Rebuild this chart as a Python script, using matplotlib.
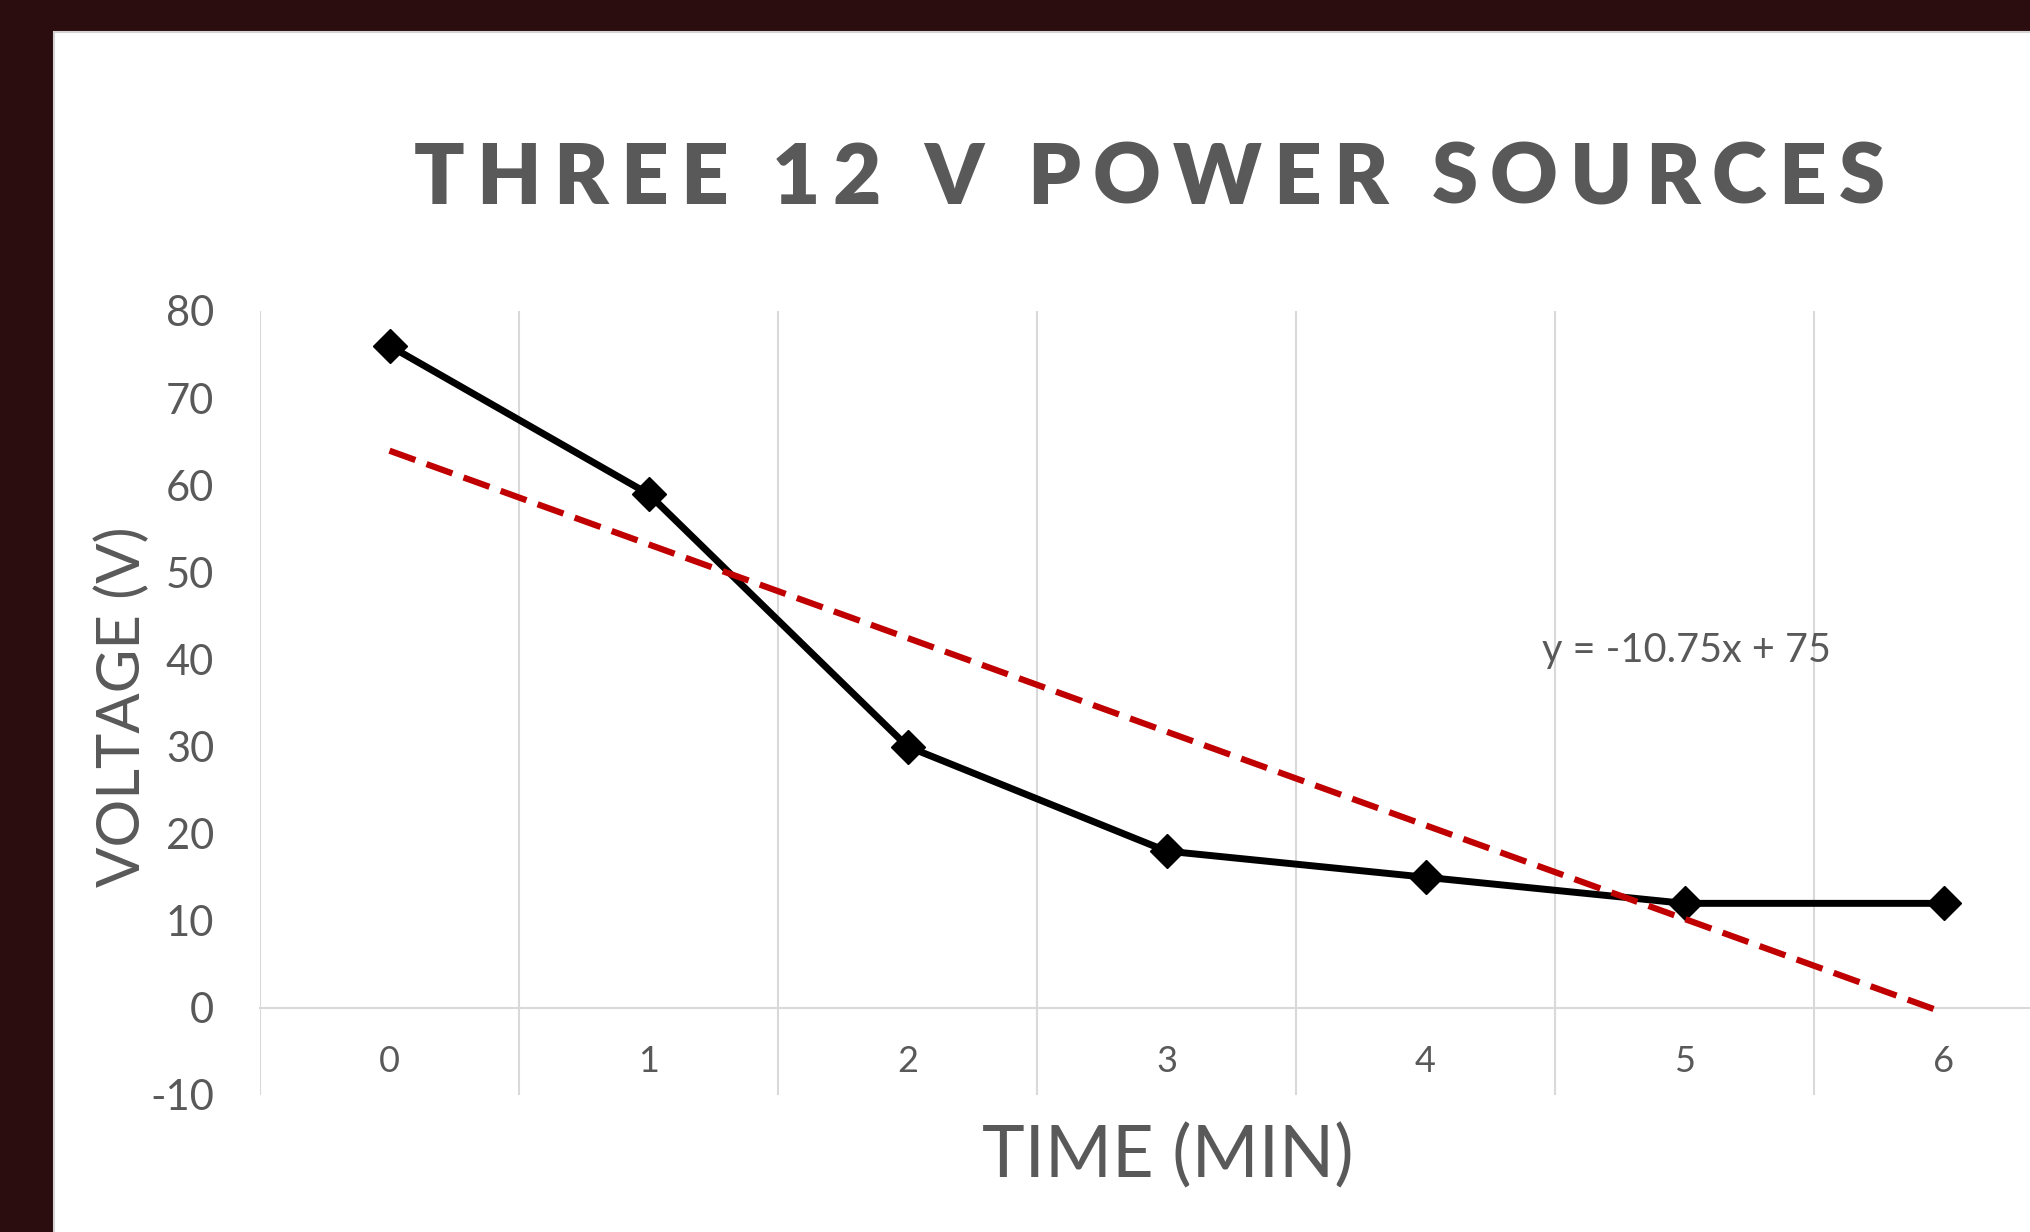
import numpy as np
import matplotlib.pyplot as plt
from matplotlib.patches import Rectangle

# data
time_min = [0, 1, 2, 3, 4, 5, 6]
voltage = [76, 59, 30, 18, 15, 12, 12]
y_ticks = [-10, 0, 10, 20, 30, 40, 50, 60, 70, 80]

title = 'THREE 12 V POWER SOURCES'
x_title = 'TIME (MIN)'
y_title = 'VOLTAGE (V)'

GREY = '#595959'
GRID = '#d9d9d9'
FONT = 'Lato'

W, H = 2030, 1232


def tracked_text(fig, s, xc, y, track, **kw):
    # matplotlib has no letter-spacing, so place the glyphs one by one
    r = fig.canvas.get_renderer()
    probe = fig.text(0, 0, 'HH', **kw)
    base = probe.get_window_extent(r).width
    adv = []
    for ch in s:
        probe.set_text('H' + ch + 'H')
        adv.append(probe.get_window_extent(r).width - base)
    probe.remove()
    total = sum(adv) + track * (len(s) - 1)
    x = xc * W - total / 2
    for ch, a in zip(s, adv):
        fig.text(x / W, y, ch, ha='left', va='baseline', **kw)
        x += a + track


def main():
    plt.rcParams['font.family'] = FONT
    fig = plt.figure(figsize=(W / 100, H / 100), dpi=100, facecolor='#2b0c0f')
    fig.add_artist(Rectangle((54 / W, -0.05), 1.1, 1 - 32 / H + 0.05, transform=fig.transFigure,
                             facecolor='white', edgecolor='#d4d4d4', linewidth=1.5, zorder=-1))

    ax = fig.add_axes([260 / W, 1 - 1095 / H, (2073 - 260) / W, (1095 - 311) / H])
    ax.set_facecolor('none')
    for side in ['top', 'right', 'left']:
        ax.spines[side].set_visible(False)
    ax.spines['bottom'].set_position(('data', 0))
    ax.spines['bottom'].set_color(GRID)
    ax.spines['bottom'].set_linewidth(1.5)
    ax.set_xlim(-0.5, 6.5)
    ax.set_ylim(-10, 80)

    x = np.array(time_min)
    ax.plot(x, voltage, color='black', linewidth=5, marker='D', markersize=17.5,
            markerfacecolor='black', markeredgecolor='black', zorder=3)

    # excel linear trendline uses the category index 1..n
    idx = np.arange(1, len(voltage) + 1)
    slope, intercept = np.polyfit(idx, voltage, 1)
    ax.plot(x, slope * idx + intercept, color='#c00000', linewidth=4.5,
            linestyle=(0, (4.4, 1.9)), dash_capstyle='butt', zorder=4)
    ax.text(4.45, 41, f'y = {slope:.2f}x + {intercept:.0f}', fontsize=28.5, color=GREY,
            ha='left', va='center')

    ax.set_xticks(time_min)
    ax.set_xticklabels([str(t) for t in time_min])
    ax.set_xticks(np.arange(-0.5, 7, 1), minor=True)
    ax.set_yticks(y_ticks)
    ax.set_yticklabels([str(v) for v in y_ticks])
    ax.tick_params(axis='x', which='both', length=0, pad=27, labelsize=26, labelcolor=GREY)
    ax.tick_params(axis='y', length=0, pad=33, labelsize=30, labelcolor=GREY)
    ax.grid(True, which='minor', axis='x', color=GRID, linewidth=1.5)
    ax.grid(False, which='major')

    tracked_text(fig, title, 1149 / W, 1 - 204 / H, 12.2, fontsize=60, fontweight='heavy',
                 color=GREY)
    fig.text(1168 / W, 1 - 1177 / H, x_title, fontsize=52, color=GREY,
             ha='center', va='baseline')
    fig.text(122 / W, 1 - 707 / H, y_title, fontsize=43, color=GREY,
             rotation=90, ha='center', va='center')

    fig.savefig('out.png', dpi=100, facecolor=fig.get_facecolor())


if __name__ == "__main__":
    main()
